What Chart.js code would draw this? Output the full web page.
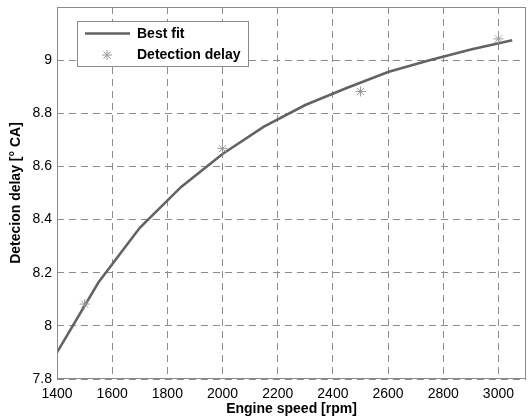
<!DOCTYPE html>
<html>
<head>
<meta charset="utf-8">
<script src="https://cdn.jsdelivr.net/npm/chart.js@4"></script>
<style>
html,body{margin:0;padding:0;background:#fff;}
#wrap{width:532px;height:418px;}
</style>
</head>
<body>
<div id="wrap"><canvas id="c" width="532" height="418"></canvas></div>
<script>
// Data
const fitSpeeds = [1400, 1550, 1700, 1850, 2000, 2150, 2300, 2450, 2600, 2750, 2900, 3050];
const fitDelays = [7.90, 8.163, 8.369, 8.523, 8.647, 8.750, 8.831, 8.895, 8.955, 9.000, 9.040, 9.075];
const measSpeeds = [1500, 2000, 2500, 3000];
const measDelays = [8.082, 8.667, 8.882, 9.080];
const xTickLabels = ['1400','1600','1800','2000','2200','2400','2600','2800','3000'];
const yTickLabels = ['7.8','8','8.2','8.4','8.6','8.8','9'];

const FONT = 'Liberation Sans, Arial, Helvetica, sans-serif';

const boxLegend = {
  id: 'boxLegend',
  afterDraw(chart) {
    const ctx = chart.ctx;
    const a = chart.chartArea;
    ctx.save();
    // full box border
    ctx.strokeStyle = '#8a8a8a';
    ctx.lineWidth = 1;
    ctx.setLineDash([]);
    ctx.strokeRect(Math.round(a.left) + 0.5, Math.round(a.top) + 0.5,
      Math.round(a.right - a.left) - 1, Math.round(a.bottom - a.top) - 1);
    // legend
    const lx = 77.5, ly = 21.5, lw = 171, lh = 45;
    ctx.fillStyle = '#fff';
    ctx.fillRect(lx, ly, lw, lh);
    ctx.strokeStyle = '#8a8a8a';
    ctx.strokeRect(lx, ly, lw, lh);
    const ds = chart.data.datasets;
    ctx.font = 'bold 14px ' + FONT;
    ctx.textBaseline = 'middle';
    ctx.fillStyle = '#000';
    // entry 1: line
    ctx.strokeStyle = ds[0].borderColor;
    ctx.lineWidth = ds[0].borderWidth;
    ctx.beginPath();
    ctx.moveTo(85, 33.5);
    ctx.lineTo(130, 33.5);
    ctx.stroke();
    ctx.fillText(ds[0].label, 137, 34);
    // entry 2: star
    ctx.strokeStyle = ds[1].borderColor;
    ctx.lineWidth = 1;
    ctx.beginPath();
    const r = ds[1].pointRadius, cx = 107, cy = 55;
    ctx.moveTo(cx - r, cy); ctx.lineTo(cx + r, cy);
    ctx.moveTo(cx, cy - r); ctx.lineTo(cx, cy + r);
    const d = r * Math.SQRT1_2;
    ctx.moveTo(cx - d, cy - d); ctx.lineTo(cx + d, cy + d);
    ctx.moveTo(cx - d, cy + d); ctx.lineTo(cx + d, cy - d);
    ctx.stroke();
    ctx.fillStyle = '#000';
    ctx.fillText(ds[1].label, 137, 55);
    ctx.restore();
  }
};

new Chart(document.getElementById('c'), {
  type: 'scatter',
  data: {
    datasets: [
      {
        label: 'Best fit',
        data: fitSpeeds.map((x, i) => ({x: x, y: fitDelays[i]})),
        showLine: true,
        borderColor: '#636363',
        borderWidth: 2.6,
        pointRadius: 0,
        tension: 0,
        order: 2
      },
      {
        label: 'Detection delay',
        data: measSpeeds.map((x, i) => ({x: x, y: measDelays[i]})),
        showLine: false,
        pointStyle: 'star',
        pointRadius: 5,
        borderColor: '#9a9a9a',
        backgroundColor: '#9a9a9a',
        borderWidth: 1,
        order: 1
      }
    ]
  },
  plugins: [boxLegend],
  options: {
    responsive: false,
    animation: false,
    layout: {padding: {top: 7, right: 4, left: 0, bottom: 0}},
    plugins: {legend: {display: false}, tooltip: {enabled: false}},
    scales: {
      x: {
        type: 'linear',
        min: 1400, max: 3100,
        afterFit(s) { s.height = 39; s.paddingLeft = 0; s.paddingRight = 0; },
        ticks: {
          stepSize: 200,
          includeBounds: false,
          color: '#000',
          padding: 7,
          font: {family: FONT, size: 14},
          callback: (v) => xTickLabels.includes(String(v)) ? String(v) : ''
        },
        grid: {color: '#8c8c8c', lineWidth: 1, drawTicks: false},
        border: {display: false, dash: [7, 5]},
        title: {
          display: true, text: 'Engine speed [rpm]', color: '#000',
          font: {family: FONT, size: 14, weight: 'bold'},
          padding: {top: 2, bottom: 0}
        }
      },
      y: {
        min: 7.8, max: 9.2,
        afterFit(s) { s.width = 57; s.paddingTop = 0; s.paddingBottom = 0; },
        ticks: {
          stepSize: 0.2,
          color: '#000',
          padding: 5,
          font: {family: FONT, size: 14},
          callback: (v) => {
            const s = String(Math.round(v * 10) / 10);
            return yTickLabels.includes(s) ? s : '';
          }
        },
        grid: {color: '#8c8c8c', lineWidth: 1, drawTicks: false},
        border: {display: false, dash: [7, 5]},
        title: {
          display: true, text: 'Detecion delay [° CA]', color: '#000',
          font: {family: FONT, size: 14, weight: 'bold'},
          padding: {top: 8, bottom: 0}
        }
      }
    }
  }
});
</script>
</body>
</html>
